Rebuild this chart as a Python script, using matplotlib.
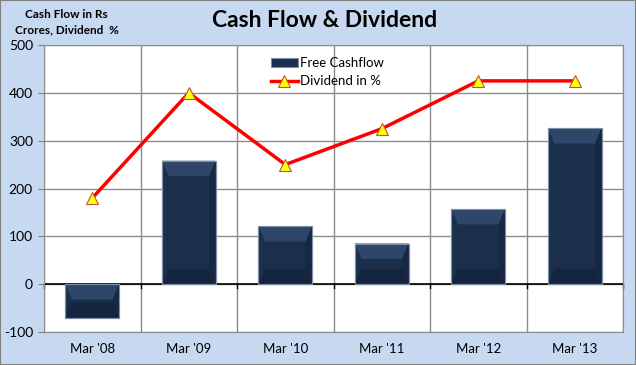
import matplotlib.pyplot as plt
import numpy as np
from matplotlib.patches import Polygon, Rectangle

plt.rcParams['font.family'] = ['Lato', 'DejaVu Sans']

categories = ["Mar '08", "Mar '09", "Mar '10", "Mar '11", "Mar '12", "Mar '13"]
free_cashflow = [-70, 258, 121, 85, 157, 326]
dividend_pct = [180, 400, 250, 325, 425, 425]
y_ticks = [-100, 0, 100, 200, 300, 400, 500]

bg_blue = '#C6D9F1'
bar_color = '#1B2E4C'

fig = plt.figure(figsize=(6.36, 3.65), dpi=100, facecolor=bg_blue)
fig.patches.append(Rectangle((0, 0), 1, 1, transform=fig.transFigure, fill=False,
                             edgecolor='#808080', linewidth=1.5))
ax = fig.add_axes([0.0692, 0.0904, 0.9104, 0.7863])

x = np.arange(len(categories))
width = 0.555

bars = ax.bar(x, free_cashflow, width=width, color=bar_color, edgecolor='#7F8FA6',
              linewidth=0.8, zorder=3, label='Free Cashflow')

# simple bevel on every bar
for b in bars:
    x0, x1 = b.get_x(), b.get_x() + b.get_width()
    y0, y1 = sorted([b.get_y(), b.get_y() + b.get_height()])
    d = 0.12 * (x1 - x0)
    dy = min(32, (y1 - y0) / 2)
    ax.add_patch(Polygon([[x0, y1], [x1, y1], [x1 - d, y1 - dy], [x0 + d, y1 - dy]],
                         closed=True, color='#2E4669', zorder=3.5, linewidth=0))
    ax.add_patch(Polygon([[x0, y0], [x1, y0], [x1 - d, y0 + dy], [x0 + d, y0 + dy]],
                         closed=True, color='#15253F', zorder=3.5, linewidth=0))
    ax.add_patch(Polygon([[x1, y0], [x1, y1], [x1 - d, y1 - dy], [x1 - d, y0 + dy]],
                         closed=True, color='#172942', zorder=3.5, linewidth=0))
    ax.add_patch(Rectangle((x0, y0), x1 - x0, y1 - y0, fill=False,
                           edgecolor='#7F8FA6', linewidth=0.8, zorder=3.6))

ax.plot(x, dividend_pct, color='#FF0000', linewidth=2.5, marker='^', markersize=8,
        markerfacecolor='#FFFF00', markeredgecolor='#C0504D', markeredgewidth=0.8,
        zorder=4, label='Dividend in %')

ax.set_xlim(-0.5, len(categories) - 0.5)
ax.set_ylim(-100, 500)
ax.set_yticks(y_ticks)
ax.set_yticklabels([str(v) for v in y_ticks], fontsize=10)
ax.set_xticks(x)
ax.set_xticklabels(categories, fontsize=9.5)
ax.tick_params(axis='x', length=0, pad=8)
ax.tick_params(axis='y', length=4, color='#808080', pad=4)

for v in y_ticks:
    ax.axhline(v, color='#8C8C8C', linewidth=1, zorder=1)
for v in np.arange(len(categories) + 1) - 0.5:
    ax.axvline(v, color='#8C8C8C', linewidth=1, zorder=1)
ax.axhline(0, color='black', linewidth=1.2, zorder=2)
for v in np.arange(len(categories) + 1) - 0.5:
    ax.plot([v, v], [0, -9], color='black', linewidth=1, zorder=2, clip_on=False)

for s in ax.spines.values():
    s.set_color('#8C8C8C')

handles, labels = ax.get_legend_handles_labels()
order = [labels.index('Free Cashflow'), labels.index('Dividend in %')]
ax.legend([handles[i] for i in order], [labels[i] for i in order],
          loc='upper center', bbox_to_anchor=(0.49, 1.0), frameon=False,
          fontsize=9.5, handlelength=2.0, handletextpad=0.2, labelspacing=0.5)

fig.text(0.511, 0.945, 'Cash Flow & Dividend', ha='center', va='center',
         fontsize=16.5, fontweight='bold')
fig.text(0.105, 0.94, 'Cash Flow in Rs\nCrores, Dividend  %', ha='center', va='center',
         fontsize=8.5, fontweight='bold', linespacing=1.45)

fig.savefig('out.png', dpi=100, facecolor=bg_blue)
